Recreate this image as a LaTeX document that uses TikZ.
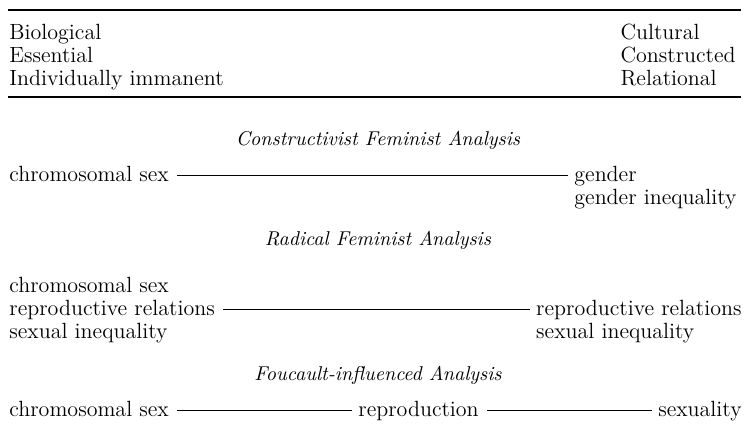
\documentclass[tikz,border=0pt]{standalone}
\usepackage{tikz}
\usetikzlibrary{positioning}

\begin{document}
\begin{tikzpicture}[x=0.5pt,y=-0.5pt,
  txt/.style={anchor=base west,inner sep=0pt,font=\fontsize{11}{11.5}\selectfont},
  txtr/.style={txt,anchor=base east},
  title/.style={anchor=base,inner sep=0pt,font=\fontsize{10}{11.5}\selectfont\itshape},
  rule/.style={line width=0.9pt},
  link/.style={line width=0.5pt}]
  \useasboundingbox (0,0) rectangle (746,429);
  % top and bottom rules of the header
  \draw[rule] (8,10) -- (741,10);
  \draw[rule] (8,97) -- (741,97);
  % header: the two poles
  \node[txt] (bio) at (9,39) {Biological};
  \node[txt] (ess) at ([yshift=-11.5pt]bio.base west) {Essential};
  \node[txt] (ind) at ([yshift=-11.5pt]ess.base west) {Individually immanent};
  \node[txtr] (con) at (736,62) {Constructed};
  \node[txt] (cul) at ([yshift=11.5pt]con.base west) {Cultural};
  \node[txt] (rel) at ([yshift=-11.5pt]con.base west) {Relational};
  % constructivist
  \node[title] (t1) at (378,145) {Constructivist Feminist Analysis};
  \node[txt] (cs1) at (9,181) {chromosomal sex};
  \node[txtr] (geq) at (737,204) {gender inequality};
  \node[txt] (gen) at ([yshift=11.5pt]geq.base west) {gender};
  \draw[link] ([shift={(4pt,2.6pt)}]cs1.base east) -- ([shift={(-3pt,2.6pt)}]gen.base west);
  % radical
  \node[title] (t2) at (378,245) {Radical Feminist Analysis};
  \node[txt] (cs2) at (9,292) {chromosomal sex};
  \node[txt] (rr1) at ([yshift=-11.5pt]cs2.base west) {reproductive relations};
  \node[txt] (si1) at ([yshift=-11.5pt]rr1.base west) {sexual inequality};
  \node[txtr] (rr2) at (742,315) {reproductive relations};
  \node[txt] (si2) at ([yshift=-11.5pt]rr2.base west) {sexual inequality};
  \draw[link] ([shift={(4pt,2.6pt)}]rr1.base east) -- ([shift={(-3pt,2.6pt)}]rr2.base west);
  % foucault
  \node[title] (t3) at (378,380) {Foucault-influenced Analysis};
  \node[txt] (cs3) at (9,416) {chromosomal sex};
  \node[txt] (rep) at (358,416) {reproduction};
  \node[txtr] (sxl) at (742,416) {sexuality};
  \draw[link] ([shift={(4pt,2.6pt)}]cs3.base east) -- ([shift={(-3pt,2.6pt)}]rep.base west);
  \draw[link] ([shift={(4pt,2.6pt)}]rep.base east) -- ([shift={(-3pt,2.6pt)}]sxl.base west);
\end{tikzpicture}
\end{document}
